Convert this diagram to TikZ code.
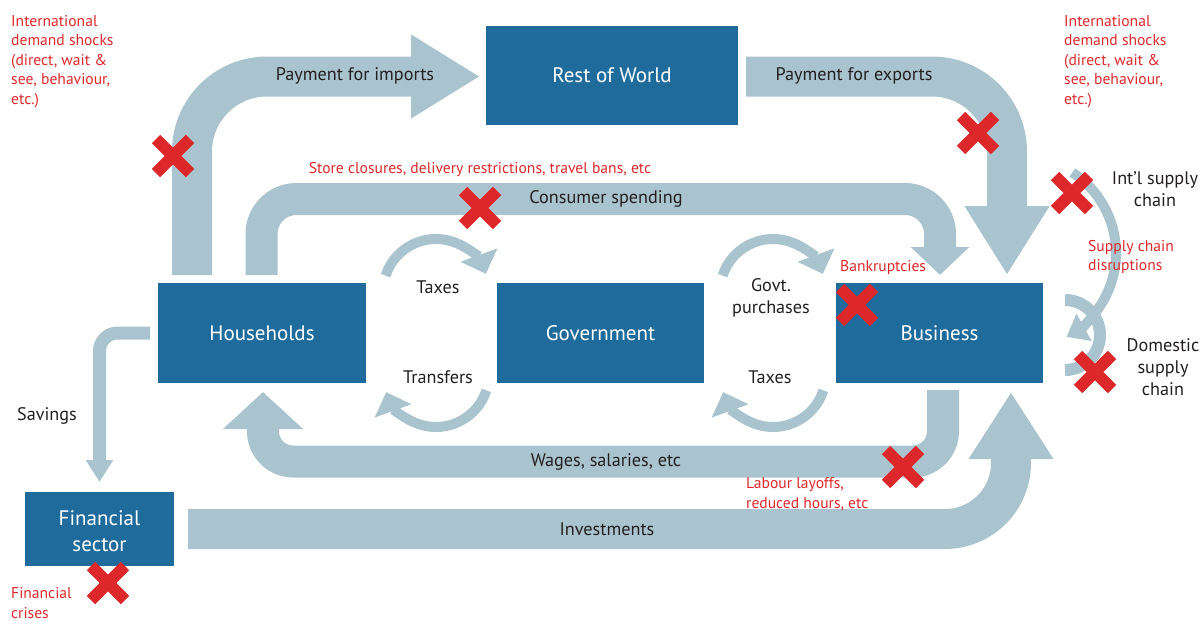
\documentclass[tikz,border=0pt]{standalone}
\usepackage{fontspec}
\setmainfont{PT Sans}
\usetikzlibrary{arrows.meta,calc}
\definecolor{boxblue}{RGB}{31,108,156}
\definecolor{flow}{RGB}{170,196,207}
\definecolor{shock}{RGB}{220,40,42}
\definecolor{ink}{RGB}{35,31,32}
\begin{document}
\begin{tikzpicture}[x=1pt,y=-1pt,
  box/.style={fill=boxblue,text=white,inner sep=0pt,align=center,font=\fontsize{21}{26}\selectfont},
  lbl/.style={text=ink,inner sep=0pt,align=center,font=\fontsize{18.2}{22.3}\selectfont},
  note/.style={text=shock,inner sep=0pt,align=left,anchor=north west,font=\fontsize{15.6}{19.5}\selectfont},
  band/.style={draw=flow,line cap=butt,line join=round},
  ring/.style={draw=flow,line width=10pt,line cap=butt},
  redx/.pic={\draw[shock,line width=12pt,line cap=butt] (-17,-17)--(17,17) (-17,17)--(17,-17);}
]
\useasboundingbox (0,0) rectangle (1203,621);

% boxes
\node[box,minimum width=252pt,minimum height=99pt] (rw) at (612,75.5) {Rest of World};
\node[box,minimum width=208pt,minimum height=100pt] (hh) at (262,333) {Households};
\node[box,minimum width=207pt,minimum height=100pt] (gv) at (600.5,333) {Government};
\node[box,minimum width=207pt,minimum height=100pt] (bs) at (939.5,333) {Business};
\node[box,minimum width=149pt,minimum height=74pt] (fs) at (99.5,529) {};
\node[box,fill=none] (fst) at (99.5,531) {Financial\\sector};

% flow end points
\coordinate (impS) at (192,275);
\coordinate (impE) at (480,76.5);
\coordinate (expS) at (746,76.5);
\coordinate (expE) at (1007,275);
\coordinate (conS) at (261.5,275);
\coordinate (conE) at (940,275);
\coordinate (wagS) at (943,390);
\coordinate (wagE) at (263,392);
\coordinate (invS) at (188,529);
\coordinate (invE) at (1011,392);
\coordinate (savS) at (150,333);
\coordinate (savE) at (99.5,482);

% big flows
\draw[band,line width=40pt,rounded corners=75pt,-{Triangle[width=79pt,length=69pt]}]
  (impS) -- (impS |- impE) -- (impE);
\draw[band,line width=40pt,rounded corners=75pt,-{Triangle[width=80pt,length=69pt]}]
  (expS) -- (expS -| expE) -- (expE);
\draw[band,line width=32pt,rounded corners=35pt,-{Triangle[width=57pt,length=28pt]}]
  (conS) -- (261.5,199) -- (940,199) -- (conE);
\draw[band,line width=32pt,rounded corners=30pt,-{Triangle[width=78pt,length=37pt]}]
  (wagS) -- (943,461.5) -- (263,461.5) -- (wagE);
\draw[band,line width=40pt,rounded corners=66pt,-{Triangle[width=80pt,length=67pt]}]
  (invS) -- (invS -| invE) -- (invE);
\draw[band,line width=13pt,rounded corners=18pt,-{Triangle[width=26pt,length=22pt]}]
  (savS) -- (savS -| savE) -- (savE);

% government rings
\coordinate (c1) at (436,292);
\coordinate (c2) at (436,374);
\coordinate (c3) at (773,292);
\coordinate (c4) at (773,374);
\draw[ring,-{Triangle[width=38pt,length=20pt]}] ($(c1)+(198:53)$) arc[start angle=198,end angle=340,radius=53];
\draw[ring,-{Triangle[width=38pt,length=20pt]}] ($(c2)+(18:53)$) arc[start angle=18,end angle=160,radius=53];
\draw[ring,-{Triangle[width=38pt,length=20pt]}] ($(c3)+(198:53)$) arc[start angle=198,end angle=340,radius=53];
\draw[ring,-{Triangle[width=38pt,length=20pt]}] ($(c4)+(18:53)$) arc[start angle=18,end angle=160,radius=53];

% supply chain rings
\coordinate (c5) at (1065,335);
\coordinate (c6) at (1020,253);
\draw[ring,line width=12pt] ($(c5)+(270:35)$) arc[start angle=270,end angle=450,radius=35];
\draw[ring,-{Triangle[width=30pt,length=20pt]}] ($(c6)+(-57:96)$) arc[start angle=-57,end angle=61,radius=96];

% flow labels
\node[lbl] (limp) at (355,76) {Payment for imports};
\node[lbl] (lexp) at (854,76) {Payment for exports};
\node[lbl] (lcon) at (606,199) {Consumer spending};
\node[lbl] (ltax1) at (438,287) {Taxes};
\node[lbl] (ltr) at (438,377) {Transfers};
\node[lbl] (lgp) at (771,298) {Govt.\\purchases};
\node[lbl] (ltax2) at (770,377) {Taxes};
\node[lbl] (lwag) at (606,462) {Wages, salaries, etc};
\node[lbl] (linv) at (607,529) {Investments};
\node[lbl] (lsav) at (47,416) {Savings};
\node[lbl] (lint) at (1155,189) {Int’l supply\\chain};
\node[lbl] (ldom) at (1163,367) {Domestic\\supply\\chain};

% shock notes
\node[note] (n1) at (11,15) {International\\demand shocks\\(direct, wait \&\\see, behaviour,\\etc.)};
\node[note] (n2) at (1064,15) {International\\demand shocks\\(direct, wait \&\\see, behaviour,\\etc.)};
\node[note,anchor=center] (n3) at (480,170) {Store closures, delivery restrictions, travel bans, etc};
\node[note,anchor=west] (n4) at (840,268) {Bankruptcies};
\node[note,anchor=west] (n5) at (1088,257) {Supply chain\\disruptions};
\node[note,anchor=west] (n6) at (746,494) {Labour layoffs,\\reduced hours, etc};
\node[note,anchor=west] (n7) at (11,603) {Financial\\crises};

% crosses
\pic at (173,156) {redx};
\pic at (480,208) {redx};
\pic at (978,133) {redx};
\pic at (1072,193) {redx};
\pic at (857,305) {redx};
\pic at (1095,372) {redx};
\pic at (903,467) {redx};
\pic at (108,583) {redx};
\end{tikzpicture}
\end{document}
